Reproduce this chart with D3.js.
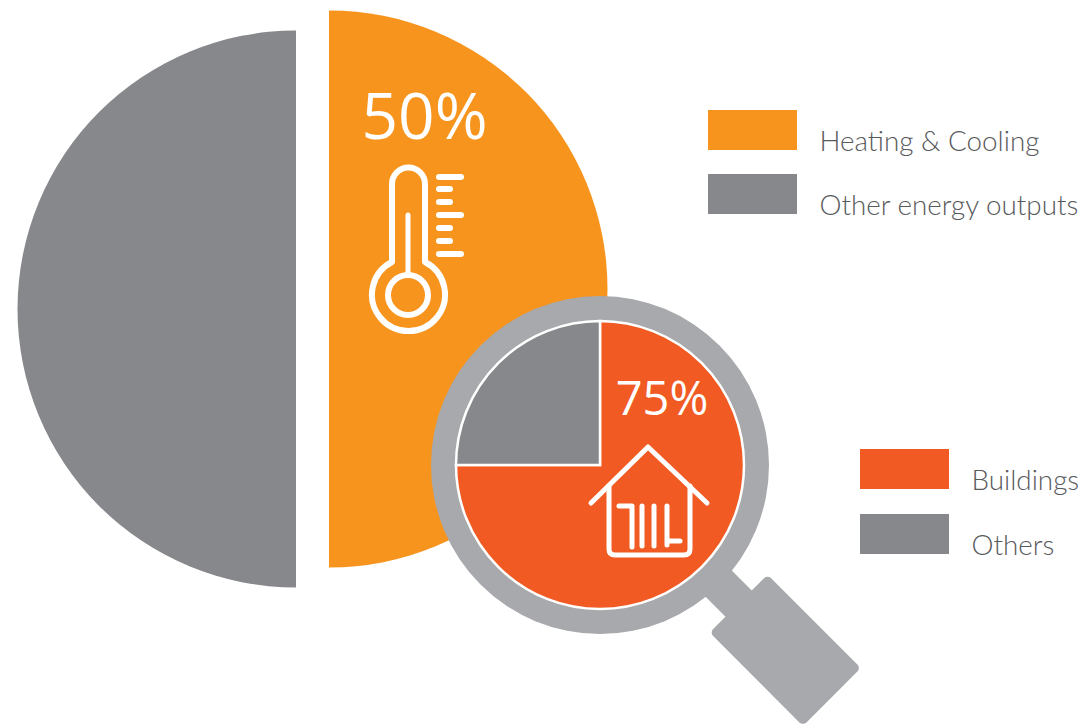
<!DOCTYPE html>
<html>
<head>
<meta charset="utf-8">
<title>Heating and cooling share of energy</title>
<script src="https://d3js.org/d3.v7.min.js"></script>
<style>
  html, body { margin: 0; padding: 0; background: #fff; }
  svg { display: block; }
  .pct { font-family: "Open Sans", sans-serif; fill: #fff; }
  .legend-label { font-family: Lato, sans-serif; font-size: 27.8px; font-weight: 300; fill: #58595b; }
  .icon { fill: none; stroke: #fff; stroke-linecap: round; stroke-linejoin: round; }
</style>
</head>
<body>
<svg id="chart" width="1090" height="724"></svg>
<script>
'use strict';

// values
var energyLabels = ['Heating & Cooling', 'Other energy outputs'];
var energyValues = [50, 50];
var sectorLabels = ['Buildings', 'Others'];
var sectorValues = [75, 25];

var colors = {
  orange: '#f7941d',
  gray: '#87888b',
  red: '#f15a22',
  lens: '#a7a9ac'
};

var svg = d3.select('#chart');

// big pie, the two halves are pulled apart
var bigArc = d3.arc().innerRadius(0).outerRadius(278.5);
var bigPie = d3.pie().sort(null).value(function(d) { return d; });
var bigSlices = bigPie(energyValues);
var bigOffsets = [[329, 289], [296, 309]];
var bigColors = [colors.orange, colors.gray];

svg.selectAll('.big')
  .data(bigSlices)
  .enter().append('path')
    .attr('class', 'big')
    .attr('transform', function(d, i) { return 'translate(' + bigOffsets[i] + ')'; })
    .attr('d', bigArc)
    .attr('fill', function(d, i) { return bigColors[i]; });

svg.append('text')
  .attr('class', 'pct')
  .attr('x', 424.5)
  .attr('y', 138.5)
  .attr('text-anchor', 'middle')
  .style('font-size', '64px')
  .text(energyValues[0] + '%');

// thermometer
var thermo = svg.append('g').attr('class', 'icon');
thermo.append('path')
  .attr('stroke-width', 6)
  .attr('d', 'M392,262 V184 A16.5,16.5 0 0 1 425,184 V262 A36.5,36.5 0 1 1 392,262 Z');
thermo.append('circle')
  .attr('cx', 408).attr('cy', 295).attr('r', 20)
  .attr('stroke-width', 6);
thermo.append('path')
  .attr('stroke-width', 5)
  .attr('d', 'M408,215 V275');
thermo.selectAll('.tick')
  .data([[177, 461], [189, 450], [202, 450], [215, 461], [228, 450], [241, 450], [254, 461]])
  .enter().append('line')
    .attr('class', 'tick')
    .attr('x1', 439)
    .attr('x2', function(d) { return d[1]; })
    .attr('y1', function(d) { return d[0]; })
    .attr('y2', function(d) { return d[0]; })
    .attr('stroke-width', 6);

// magnifier
var lens = svg.append('g').attr('transform', 'translate(600,465)');

var handle = lens.append('g').attr('transform', 'rotate(45)');
handle.append('rect')
  .attr('x', 160).attr('y', -18.5)
  .attr('width', 40).attr('height', 37)
  .attr('fill', colors.lens);
handle.append('rect')
  .attr('x', 196).attr('y', -41)
  .attr('width', 132).attr('height', 82)
  .attr('rx', 5)
  .attr('fill', colors.lens);

lens.append('circle').attr('r', 169).attr('fill', colors.lens);

var smallArc = d3.arc().innerRadius(0).outerRadius(144);
var smallPie = d3.pie().sort(null).value(function(d) { return d; });
var smallColors = [colors.red, colors.gray];

lens.selectAll('.small')
  .data(smallPie(sectorValues))
  .enter().append('path')
    .attr('class', 'small')
    .attr('d', smallArc)
    .attr('fill', function(d, i) { return smallColors[i]; })
    .attr('stroke', '#fff')
    .attr('stroke-width', 2.5);

svg.append('text')
  .attr('class', 'pct')
  .attr('x', 662)
  .attr('y', 415)
  .attr('text-anchor', 'middle')
  .style('font-size', '47px')
  .text(sectorValues[0] + '%');

// house with radiator
var house = svg.append('g').attr('class', 'icon').attr('stroke-width', 5);
house.append('path').attr('d', 'M591,503 L648,447 L707,503');
house.append('path').attr('d', 'M609,486 V549 Q609,555 615,555 H684 Q690,555 690,549 V486');
house.append('path').attr('d', 'M619,506 H632 V547');
house.append('path').attr('d', 'M642,506 V546');
house.append('path').attr('d', 'M654,506 V546');
house.append('path').attr('d', 'M667,506 V545 M667,541 H680');

// legends
function drawLegend(labels, fills, swatchX, swatchY, textX, textY) {
  var rowStep = swatchY[1] - swatchY[0];
  var row = svg.selectAll(null)
    .data(labels)
    .enter().append('g');
  row.append('rect')
    .attr('x', swatchX)
    .attr('y', function(d, i) { return swatchY[i]; })
    .attr('width', 89)
    .attr('height', 40)
    .attr('fill', function(d, i) { return fills[i]; });
  row.append('text')
    .attr('class', 'legend-label')
    .attr('x', textX)
    .attr('y', function(d, i) { return textY + i * rowStep; })
    .text(function(d) { return d; });
}

drawLegend(energyLabels, bigColors, 708, [110, 174], 819.5, 151);
drawLegend(sectorLabels, smallColors, 860, [449, 514], 971.5, 490);
</script>
</body>
</html>
